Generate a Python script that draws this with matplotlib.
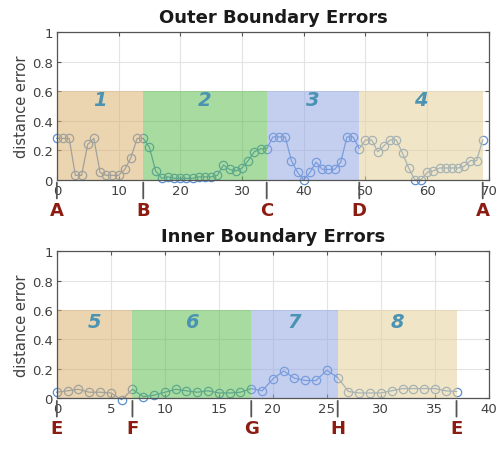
import matplotlib
matplotlib.use("Agg")
import matplotlib.pyplot as plt
from matplotlib.patches import Rectangle

# === Outer boundary: error at each contour sample ===
outer_err = [0.28, 0.28, 0.28, 0.03, 0.03, 0.24, 0.28, 0.05, 0.03, 0.03,
             0.03, 0.07, 0.15, 0.28, 0.28, 0.22, 0.06, 0.01, 0.02, 0.01,
             0.01, 0.01, 0.01, 0.02, 0.02, 0.02, 0.03, 0.10, 0.07, 0.06,
             0.08, 0.13, 0.19, 0.21, 0.21, 0.29, 0.29, 0.29, 0.13, 0.05,
             0.00, 0.05, 0.12, 0.07, 0.07, 0.07, 0.12, 0.29, 0.29, 0.21,
             0.27, 0.27, 0.19, 0.23, 0.27, 0.27, 0.18, 0.08, 0.00, 0.00,
             0.05, 0.06, 0.08, 0.08, 0.08, 0.08, 0.09, 0.13, 0.13, 0.27]
outer_bounds = [0, 14, 34, 49, 69]
outer_marks = ["A", "B", "C", "D", "A"]
outer_segments = ["1", "2", "3", "4"]

# === Inner boundary ===
inner_err = [0.04, 0.05, 0.06, 0.04, 0.04, 0.035, -0.01, 0.06, 0.01, 0.02,
             0.04, 0.06, 0.05, 0.04, 0.05, 0.035, 0.035, 0.04, 0.065, 0.05,
             0.13, 0.185, 0.135, 0.12, 0.12, 0.19, 0.14, 0.045, 0.035, 0.035,
             0.035, 0.05, 0.065, 0.065, 0.065, 0.065, 0.05, 0.045]
inner_bounds = [0, 7, 18, 26, 37]
inner_marks = ["E", "F", "G", "H", "E"]
inner_segments = ["5", "6", "7", "8"]

seg_colors = ["#dcb16f", "#61be52", "#94a8e4", "#e7d19b"]
seg_height = 0.6
line_color = "#5a8fd2"
mark_color = "#8c1c12"
num_color = "#4a93b3"
text_gray = "#404040"


def draw_panel(ax, err, bounds, marks, segs, title, xmax, xstep, num_y):
    ax.plot(range(len(err)), err, "-o", color=line_color, lw=0.9,
            mfc="none", ms=6, mew=0.9, zorder=2, clip_on=False)

    # translucent regions drawn over the curve
    for i, name in enumerate(segs):
        x0, x1 = bounds[i], bounds[i + 1]
        ax.add_patch(Rectangle((x0, 0), x1 - x0, seg_height,
                               facecolor=seg_colors[i], edgecolor="none",
                               alpha=0.55, zorder=3))
        ax.text((x0 + x1) / 2, num_y, name, color=num_color, fontsize=14,
                fontweight="bold", fontstyle="italic", ha="center",
                va="center", zorder=4)

    # boundary markers below the axis
    for x, lab in zip(bounds, marks):
        ax.annotate("", xy=(x, 0), xytext=(x, -0.145),
                    xycoords="data", textcoords="data",
                    arrowprops=dict(arrowstyle="-", color="#555555", lw=1.3),
                    annotation_clip=False)
        ax.text(x, -0.145, lab, color=mark_color, fontsize=13,
                fontweight="bold", ha="center", va="top", clip_on=False)

    ax.set_xlim(0, xmax)
    ax.set_ylim(0, 1)
    ax.set_xticks(range(0, xmax + 1, xstep))
    ax.set_yticks([0, 0.2, 0.4, 0.6, 0.8, 1])
    ax.set_yticklabels(["0", "0.2", "0.4", "0.6", "0.8", "1"])
    ax.grid(True, color="#e3e3e3", lw=0.8, zorder=0)
    ax.set_axisbelow(True)
    ax.tick_params(direction="in", length=3, top=True, right=True,
                   labelsize=9.5, colors="#555555", labelcolor=text_gray,
                   pad=3)
    for sp in ax.spines.values():
        sp.set_color("#555555")
        sp.set_linewidth(0.9)
        sp.set_zorder(5)
    ax.set_ylabel("distance error", fontsize=10.5, color=text_gray,
                  labelpad=2)
    ax.set_title(title, fontsize=13, fontweight="bold", color="#1a1a1a",
                 pad=7)


fig = plt.figure(figsize=(5.03, 4.52), dpi=100)
ax_top = fig.add_axes([0.113, 0.600, 0.859, 0.327])
ax_bot = fig.add_axes([0.113, 0.117, 0.859, 0.325])

draw_panel(ax_top, outer_err, outer_bounds, outer_marks, outer_segments,
           "Outer Boundary Errors", 70, 10, 0.54)
draw_panel(ax_bot, inner_err, inner_bounds, inner_marks, inner_segments,
           "Inner Boundary Errors", 40, 5, 0.52)

fig.savefig("out.png", dpi=100)
